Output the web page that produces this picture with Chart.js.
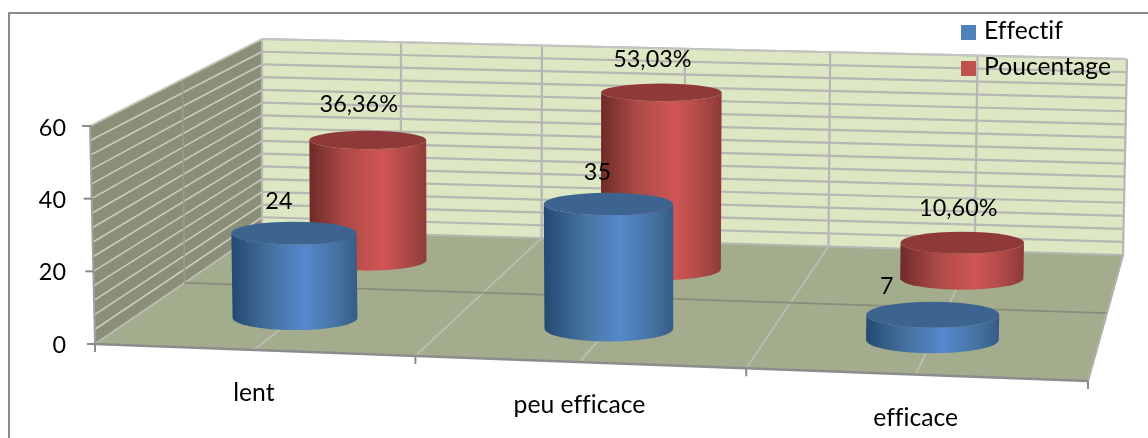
<!DOCTYPE html>
<html>
<head>
<meta charset="utf-8">
<title>Effectif et pourcentage</title>
<script src="https://cdn.jsdelivr.net/npm/chart.js@4/dist/chart.umd.min.js"></script>
<style>
    html, body { margin: 0; padding: 0; background: #fff; }
    canvas { display: block; }
</style>
</head>
<body>
<canvas id="cylinderChart" width="1148" height="438"></canvas>
<script>
const categories = ['lent', 'peu efficace', 'efficace'];
const effectif = [24, 35, 7];
const pourcentage = [36.36, 53.03, 10.60];
const seriesNames = ['Effectif', 'Poucentage'];
const yTicks = [0, 20, 40, 60];

const FONT = 'Lato, "Open Sans", sans-serif';
const WORD_SIZE = 24.7;
const NUMBER_SIZE = 23.4;

// Corners of the 3D box on the canvas
const floorQuad = [[95, 344], [1088, 381], [1123, 255], [262, 230]];
const topQuad = [[90, 126], [1093, 156], [1127, 59], [262, 39]];

// Row of each series along the depth axis, and cylinder depth radius
const rowDepth = [0.25, 0.75];
const DEPTH_RADIUS = 0.1;

// Label nudges relative to the centre of a cylinder's top, per series and category
const labelOffsets = [
    [[-15, -32], [-11, -31], [-46, -28]],
    [[-9, -35], [-9, -33], [-4, -34]]
];

const sideStops = [
    [[0, '#254a72'], [0.3, '#44719f'], [0.58, '#5589cb'], [0.85, '#44719f'], [1, '#365c84']],
    [[0, '#6f2b29'], [0.3, '#ac4a47'], [0.62, '#d05654'], [0.85, '#ab4846'], [1, '#8e3b39']]
];
const capColors = ['#3d648f', '#8f3a38'];

function homography(q) {
    const [[x0, y0], [x1, y1], [x2, y2], [x3, y3]] = q;
    const dx1 = x1 - x2, dx2 = x3 - x2, sx = x0 - x1 + x2 - x3;
    const dy1 = y1 - y2, dy2 = y3 - y2, sy = y0 - y1 + y2 - y3;
    const det = dx1 * dy2 - dx2 * dy1;
    const g = (sx * dy2 - dx2 * sy) / det;
    const h = (dx1 * sy - sx * dy1) / det;
    const a = x1 - x0 + g * x1, b = x3 - x0 + h * x3;
    const d = y1 - y0 + g * y1, e = y3 - y0 + h * y3;
    return (u, v) => {
        const w = g * u + h * v + 1;
        return [(a * u + b * v + x0) / w, (d * u + e * v + y0) / w];
    };
}

const floorAt = homography(floorQuad);
const topAt = homography(topQuad);

// u: along the categories, h: height 0-1, d: depth 0-1
function project(u, h, d) {
    const s = u + 0.018 * u * (1 - u); // eases the horizontal foreshortening a little
    const f = floorAt(s, d), t = topAt(s, d);
    return [f[0] + (t[0] - f[0]) * h, f[1] + (t[1] - f[1]) * h];
}

function strokeLine(ctx, a, b, color, width) {
    ctx.strokeStyle = color;
    ctx.lineWidth = width;
    ctx.beginPath();
    ctx.moveTo(a[0], a[1]);
    ctx.lineTo(b[0], b[1]);
    ctx.stroke();
}

function fillQuad(ctx, pts, color) {
    ctx.fillStyle = color;
    ctx.beginPath();
    pts.forEach((p, i) => i ? ctx.lineTo(p[0], p[1]) : ctx.moveTo(p[0], p[1]));
    ctx.closePath();
    ctx.fill();
}

function drawBox(chart) {
    const ctx = chart.ctx;
    const yScale = chart.scales.y;
    const area = chart.chartArea;
    const heightOf = v => (area.bottom - yScale.getPixelForValue(v)) / (area.bottom - area.top);

    // frame around the chart
    ctx.strokeStyle = '#8c8c8c';
    ctx.lineWidth = 2;
    ctx.strokeRect(9, 13, 1160, 440);

    fillQuad(ctx, [project(0, 0, 0), project(0, 1, 0), project(0, 1, 1), project(0, 0, 1)], '#8a9078');
    fillQuad(ctx, [project(0, 0, 1), project(0, 1, 1), project(1, 1, 1), project(1, 0, 1)], '#dde7c4');
    fillQuad(ctx, [project(0, 0, 0), project(1, 0, 0), project(1, 0, 1), project(0, 0, 1)], '#a3ad8e');

    // horizontal gridlines on both walls, one per scale tick
    yScale.ticks.forEach(t => {
        const h = heightOf(t.value);
        strokeLine(ctx, project(0, h, 1), project(1, h, 1), '#b6b6b2', 2.2);
        if (h > 0) strokeLine(ctx, project(0, h, 0), project(0, h, 1), '#c9cbc0', 1.6);
    });

    // vertical gridlines, at category edges and centres
    for (let i = 0; i <= 6; i++) {
        const u = i / 6;
        strokeLine(ctx, project(u, 0, 1), project(u, 1, 1), '#b6b6b2', 2.2);
        strokeLine(ctx, project(u, 0, 0), project(u, 0, 1), '#bcbdb4', 1.8);
    }
    strokeLine(ctx, project(0, 0, 0.5), project(0, 1, 0.5), '#9a9c92', 1.6);
    strokeLine(ctx, project(0, 0, 0.5), project(1, 0, 0.5), '#888c7c', 1.8);
    strokeLine(ctx, project(0, 1, 1), project(1, 1, 1), '#c4c4c0', 2);
    strokeLine(ctx, project(0, 1, 0), project(0, 1, 1), '#c4c4c0', 1.6);
    strokeLine(ctx, project(1, 0, 0), project(1, 0, 1), '#b0b0aa', 2);

    // axis lines and tick marks
    strokeLine(ctx, project(0, 0, 0), project(0, 1, 0), '#a0a0a0', 2);
    strokeLine(ctx, project(0, 0, 0), project(1, 0, 0), '#8c8c8c', 2.5);
    yTicks.forEach(v => {
        const p = project(0, heightOf(v), 0);
        strokeLine(ctx, [p[0] - 8, p[1]], [p[0] + 1, p[1]], '#8c8c8c', 2);
    });
    for (let i = 0; i <= 3; i++) {
        const p = project(i / 3, 0, 0);
        strokeLine(ctx, p, [p[0], p[1] + 8], '#8c8c8c', 2);
    }
}

function drawCylinder(chart, bar, series, area, base) {
    const ctx = chart.ctx;
    const u = (bar.x - area.left) / (area.right - area.left);
    const du = bar.width / (area.right - area.left) / 2;
    const h = (base - bar.y) / (area.bottom - area.top);
    const d = rowDepth[series];

    const ring = level => {
        const c = project(u, level, d);
        const l = project(u - du, level, d);
        const r = project(u + du, level, d);
        const near = project(u, level, d - DEPTH_RADIUS);
        const far = project(u, level, d + DEPTH_RADIUS);
        return { x: (l[0] + r[0]) / 2, y: c[1], rx: (r[0] - l[0]) / 2, ry: (near[1] - far[1]) / 2 };
    };
    const low = ring(0), high = ring(h);

    const grad = ctx.createLinearGradient(low.x - low.rx, 0, low.x + low.rx, 0);
    sideStops[series].forEach(s => grad.addColorStop(s[0], s[1]));
    ctx.fillStyle = grad;
    ctx.beginPath();
    ctx.moveTo(high.x - high.rx, high.y);
    ctx.lineTo(low.x - low.rx, low.y);
    ctx.ellipse(low.x, low.y, low.rx, low.ry, 0, Math.PI, 0, true);
    ctx.lineTo(high.x + high.rx, high.y);
    ctx.ellipse(high.x, high.y, high.rx, high.ry, 0, 0, Math.PI, false);
    ctx.closePath();
    ctx.fill();

    ctx.fillStyle = capColors[series];
    ctx.beginPath();
    ctx.ellipse(high.x, high.y, high.rx, high.ry, 0, 0, Math.PI * 2);
    ctx.fill();

    return high;
}

function valueText(series, value) {
    return series === 0 ? String(value) : value.toFixed(2).replace('.', ',') + '%';
}

const cylinderPlugin = {
    id: 'cylinders',
    beforeDatasetsDraw(chart) {
        const ctx = chart.ctx;
        const area = chart.chartArea;
        const base = chart.scales.y.getPixelForValue(0);
        const tops = [[], []];

        ctx.save();
        drawBox(chart);

        // back row first so the front row overlaps it
        for (let s = chart.data.datasets.length - 1; s >= 0; s--) {
            chart.getDatasetMeta(s).data.forEach((bar, i) => {
                tops[s][i] = drawCylinder(chart, bar, s, area, base);
            });
        }

        ctx.fillStyle = '#000';
        ctx.letterSpacing = '0.01px'; // keeps "fi" and "ti" as separate letters
        ctx.font = NUMBER_SIZE + 'px ' + FONT;
        ctx.textAlign = 'center';
        ctx.textBaseline = 'middle';

        chart.data.datasets.forEach((ds, s) => {
            ds.data.forEach((v, i) => {
                const off = labelOffsets[s][i];
                ctx.fillText(valueText(s, v), tops[s][i].x + off[0], tops[s][i].y + off[1]);
            });
        });

        // category labels sit under the slanted front edge
        ctx.font = WORD_SIZE + 'px ' + FONT;
        const meta = chart.getDatasetMeta(0);
        chart.data.labels.forEach((label, i) => {
            const u = (meta.data[i].x - area.left) / (area.right - area.left);
            const p = project(u, 0, 0);
            ctx.fillText(label, p[0], p[1] + 43);
        });

        // legend
        ctx.textAlign = 'left';
        chart.data.datasets.forEach((ds, s) => {
            const y = 32.5 + s * 36;
            ctx.fillStyle = ds.backgroundColor;
            ctx.fillRect(961, y - 7.5, 15, 15);
            ctx.fillStyle = '#000';
            ctx.fillText(ds.label, 984, y - 1);
        });
        ctx.restore();
        return false;
    }
};

new Chart(document.getElementById('cylinderChart'), {
    type: 'bar',
    data: {
        labels: categories,
        datasets: [
            { label: seriesNames[0], data: effectif, backgroundColor: '#4f81bd' },
            { label: seriesNames[1], data: pourcentage, backgroundColor: '#c0504d' }
        ]
    },
    options: {
        responsive: false,
        animation: false,
        grouped: false,
        barPercentage: 0.404,
        categoryPercentage: 1,
        layout: { padding: { top: 128, bottom: 93, right: 60, left: 0 } },
        plugins: { legend: { display: false }, tooltip: { enabled: false } },
        scales: {
            x: { display: false },
            y: {
                min: 0,
                max: 60,
                afterFit(scale) { scale.width = 90; },
                grid: { display: false },
                border: { display: false },
                ticks: {
                    stepSize: 4,
                    autoSkip: false,
                    padding: 16,
                    color: '#000',
                    font: { family: FONT, size: NUMBER_SIZE },
                    callback: v => yTicks.includes(v) ? String(v) : ''
                }
            }
        }
    },
    plugins: [cylinderPlugin]
});
</script>
</body>
</html>
